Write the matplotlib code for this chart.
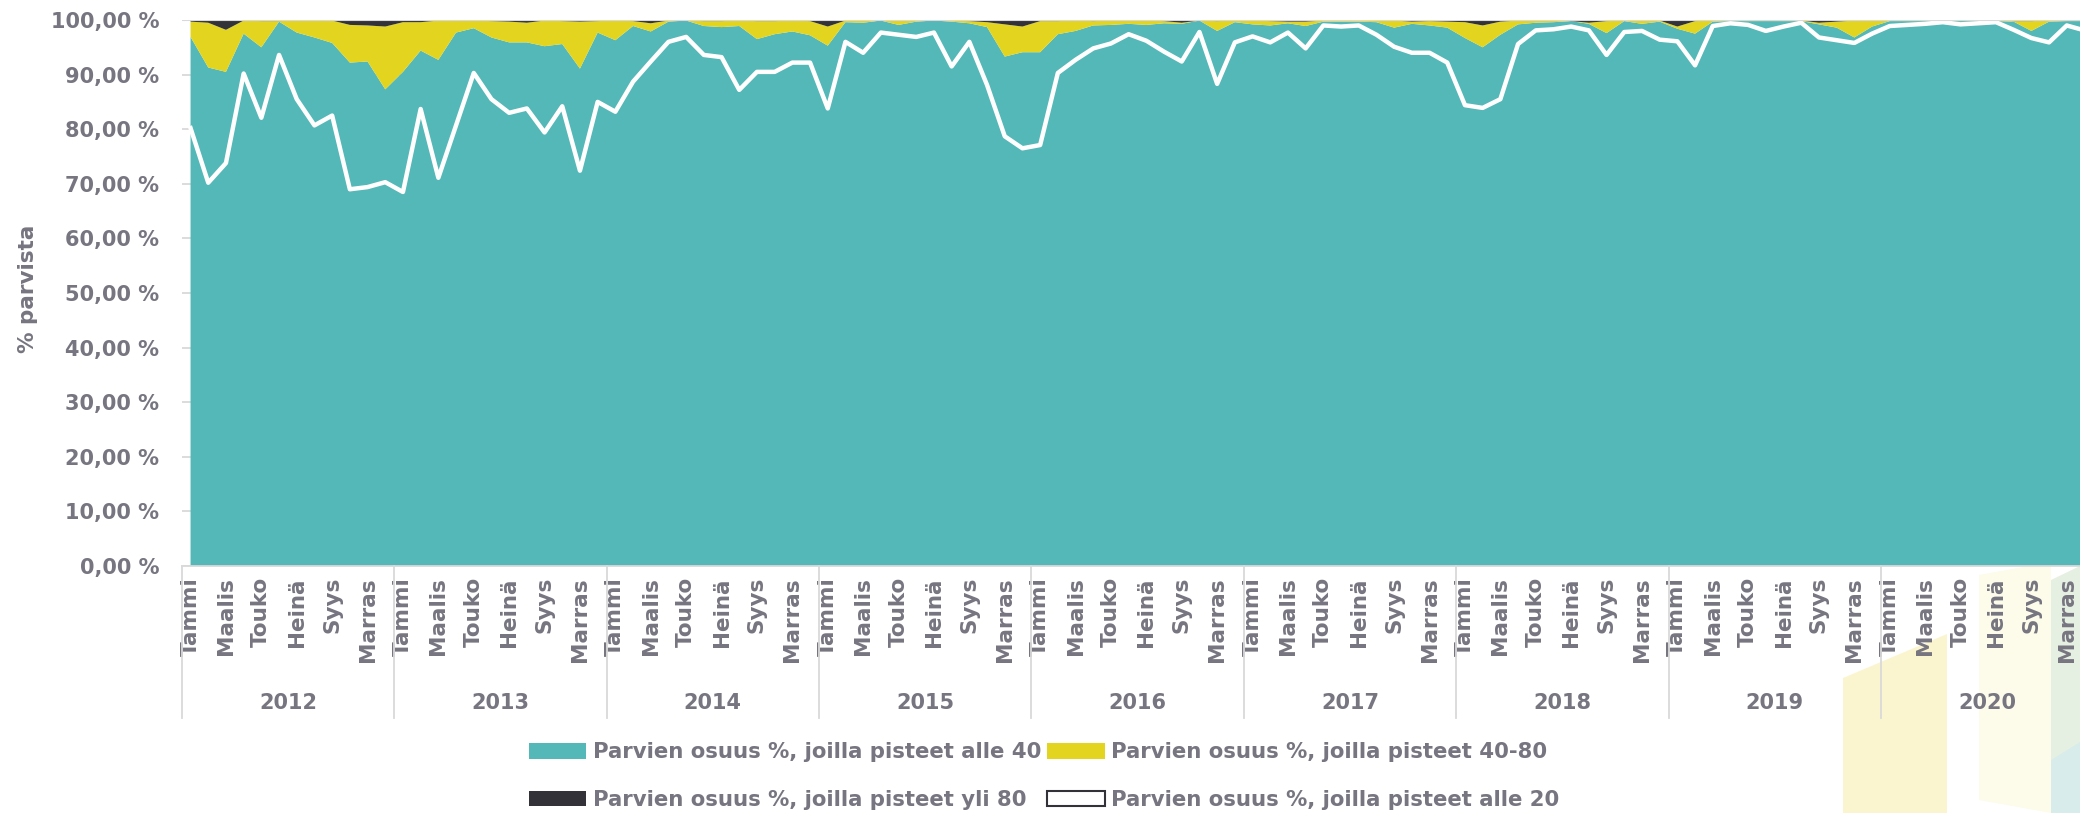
import matplotlib
matplotlib.use('Agg')
import matplotlib.pyplot as plt
import matplotlib.transforms as mtransforms
from matplotlib.patches import Patch, Polygon
import numpy as np

years = ['2012', '2013', '2014', '2015', '2016', '2017', '2018', '2019', '2020']
month_names = ['Tammi', 'Maalis', 'Touko', 'Heinä', 'Syys', 'Marras']

# monthly shares (%), Jan 2012 - Dec 2020
alle_40 = [96.9, 91.3, 90.5, 97.5, 95.0, 99.7, 97.7, 96.8, 95.8, 92.2, 92.4, 87.3,
           90.5, 94.4, 92.7, 97.7, 98.5, 96.8, 95.9, 95.9, 95.2, 95.6, 91.1, 97.7,
           96.3, 98.9, 97.9, 99.7, 99.9, 98.9, 98.7, 98.9, 96.5, 97.4, 97.9, 97.2,
           95.3, 99.6, 99.5, 99.9, 99.1, 99.7, 99.9, 99.7, 99.4, 98.7, 93.3, 94.1,
           94.1, 97.4, 98.0, 99.0, 99.1, 99.3, 99.1, 99.4, 99.3, 99.9, 98.0, 99.6,
           99.2, 99.0, 99.4, 98.9, 99.7, 99.7, 99.7, 99.6, 98.6, 99.3, 99.0, 98.6,
           96.7, 95.0, 97.3, 99.2, 99.5, 99.6, 99.8, 99.3, 97.6, 99.8, 99.3, 99.7,
           98.4, 97.5, 99.7, 99.8, 99.8, 99.8, 99.8, 99.8, 99.2, 98.6, 96.8, 98.8,
           99.8, 99.8, 99.8, 99.8, 99.8, 99.8, 99.8, 99.7, 98.0, 99.7, 99.8, 99.8]

pisteet_40_80 = [2.8, 8.2, 7.7, 2.4, 4.8, 0.1, 2.2, 3.1, 4.1, 6.9, 6.6, 11.5,
                 9.1, 5.2, 7.2, 2.2, 1.4, 3.0, 3.8, 3.6, 4.7, 4.2, 8.6, 2.1,
                 3.6, 0.9, 1.5, 0.2, 0.0, 0.9, 1.1, 1.0, 3.3, 2.4, 2.0, 2.6,
                 3.5, 0.3, 0.4, 0.0, 0.8, 0.2, 0.0, 0.2, 0.4, 0.9, 5.9, 4.7,
                 5.7, 2.4, 1.9, 0.8, 0.8, 0.6, 0.8, 0.4, 0.2, 0.0, 1.8, 0.3,
                 0.7, 0.8, 0.3, 0.8, 0.2, 0.2, 0.2, 0.3, 1.3, 0.4, 0.8, 1.1,
                 2.9, 4.0, 2.4, 0.7, 0.4, 0.3, 0.0, 0.2, 2.2, 0.1, 0.6, 0.2,
                 0.4, 2.3, 0.2, 0.1, 0.1, 0.1, 0.1, 0.1, 0.3, 1.1, 3.1, 1.1,
                 0.1, 0.1, 0.1, 0.1, 0.1, 0.1, 0.1, 0.1, 1.8, 0.2, 0.1, 0.1]

yli_80 = [0.3, 0.5, 1.8, 0.1, 0.2, 0.2, 0.1, 0.1, 0.1, 0.9, 1.0, 1.2,
          0.4, 0.4, 0.1, 0.1, 0.1, 0.2, 0.3, 0.5, 0.1, 0.2, 0.3, 0.2,
          0.1, 0.2, 0.6, 0.1, 0.1, 0.2, 0.2, 0.1, 0.2, 0.2, 0.1, 0.2,
          1.2, 0.1, 0.1, 0.1, 0.1, 0.1, 0.1, 0.1, 0.2, 0.4, 0.8, 1.2,
          0.2, 0.2, 0.1, 0.2, 0.1, 0.1, 0.1, 0.2, 0.5, 0.1, 0.2, 0.1,
          0.1, 0.2, 0.3, 0.3, 0.1, 0.1, 0.1, 0.1, 0.1, 0.3, 0.2, 0.3,
          0.4, 1.0, 0.3, 0.1, 0.1, 0.1, 0.2, 0.5, 0.2, 0.1, 0.1, 0.1,
          1.2, 0.2, 0.1, 0.1, 0.1, 0.1, 0.1, 0.1, 0.5, 0.3, 0.1, 0.1,
          0.1, 0.1, 0.1, 0.1, 0.1, 0.1, 0.1, 0.2, 0.2, 0.1, 0.1, 0.1]

alle_20 = [80.2, 70.2, 73.8, 90.2, 82.1, 93.6, 85.5, 80.7, 82.5, 69.0, 69.4, 70.3,
           68.5, 83.7, 71.1, 80.7, 90.3, 85.5, 83.0, 83.8, 79.4, 84.2, 72.4, 85.0,
           83.2, 88.7, 92.4, 96.0, 96.9, 93.6, 93.2, 87.2, 90.5, 90.5, 92.2, 92.2,
           83.8, 96.0, 94.0, 97.7, 97.3, 96.9, 97.7, 91.5, 96.0, 88.1, 78.7, 76.5,
           77.1, 90.3, 92.7, 94.8, 95.7, 97.4, 96.2, 94.2, 92.4, 97.8, 88.3, 95.9,
           97.0, 95.9, 97.7, 94.8, 99.0, 98.8, 99.0, 97.3, 95.1, 94.0, 94.0, 92.2,
           84.4, 83.9, 85.5, 95.6, 98.1, 98.3, 98.8, 98.1, 93.6, 97.8, 98.0, 96.4,
           96.1, 91.7, 98.9, 99.4, 99.1, 98.0, 98.8, 99.5, 96.8, 96.3, 95.8, 97.5,
           98.9, 99.1, 99.3, 99.6, 99.2, 99.4, 99.6, 98.2, 96.7, 95.9, 99.0, 98.1]

series_labels = ['Parvien osuus %, joilla pisteet alle 40',
                 'Parvien osuus %, joilla pisteet 40-80',
                 'Parvien osuus %, joilla pisteet yli 80',
                 'Parvien osuus %, joilla pisteet alle 20']

teal = '#53b8b7'
yellow = '#e2d41f'
dark = '#333238'
grey = '#767580'
light = '#d9d9d9'

W, H = 2080, 813
fig = plt.figure(figsize=(W / 100, H / 100), dpi=100)

# faint background decoration in the lower right corner
def fpoly(pts, color):
    p = Polygon([(x / W, 1 - y / H) for x, y in pts], closed=True,
                transform=fig.transFigure, facecolor=color, edgecolor='none', zorder=-5)
    fig.add_artist(p)

fpoly([(1843, 678), (1947, 634), (1947, 813), (1843, 813)], '#fbf5cf')
fpoly([(1979, 575), (2051, 562), (2051, 813), (1979, 800)], '#fdfbea')
fpoly([(2051, 580), (2080, 566), (2080, 813), (2051, 813)], '#e6f0e2')
fpoly([(2051, 760), (2080, 742), (2080, 813), (2051, 813)], '#d8eceb')

left = 181.7 / W
ax = fig.add_axes([left, 1 - 566 / H, 1 - left, 546 / H])
ax.patch.set_alpha(0)

x = np.arange(len(alle_40))
ax.stackplot(x, alle_40, pisteet_40_80, yli_80, colors=[teal, yellow, dark],
             linewidth=0, zorder=2)
ax.plot(x, alle_20, color='white', lw=3.2, zorder=3)

ax.set_xlim(-0.5, (W - 181.7) / 17.7 - 0.5)
ax.set_ylim(0, 100)

ax.set_yticks(range(0, 101, 10))
ax.set_yticklabels([('%.2f %%' % v).replace('.', ',') for v in range(0, 101, 10)])
ax.yaxis.grid(True, color=light, lw=1.3, zorder=0)
ax.set_axisbelow(True)
ax.axhline(100, color=light, lw=1.5, zorder=4)

for s in ['left', 'right', 'top']:
    ax.spines[s].set_visible(False)
ax.spines['bottom'].set_color(light)
ax.spines['bottom'].set_linewidth(1.3)

ax.tick_params(axis='y', length=0, pad=16, labelsize=15, labelcolor=grey)
ax.set_xticks(range(0, len(x), 2))
ax.set_xticklabels(month_names * len(years), rotation=90, va='top', ha='center')
ax.tick_params(axis='x', length=0, pad=8, labelsize=15.5, labelcolor=grey)
for lab in ax.get_xticklabels() + ax.get_yticklabels():
    lab.set_fontweight('bold')

trans = mtransforms.blended_transform_factory(ax.transData, ax.transAxes)
for k, yr in enumerate(years):
    ax.text(12 * k + 5.5, -0.251, yr, transform=trans, ha='center', va='center',
            fontsize=15, fontweight='bold', color=grey)
for k in range(len(years) + 1):
    ax.plot([12 * k - 0.5] * 2, [0, -0.278], transform=trans, color=light,
            lw=1.3, clip_on=False)

fig.text(28 / W, 1 - 289 / H, '% parvista', rotation=90, ha='center', va='center',
         fontsize=15.5, fontweight='bold', color=grey)

handles = [Patch(facecolor=teal, edgecolor='none'),
           Patch(facecolor=dark, edgecolor='none'),
           Patch(facecolor=yellow, edgecolor='none'),
           Patch(facecolor='white', edgecolor=dark, linewidth=1.5)]
labels = [series_labels[0], series_labels[2], series_labels[1], series_labels[3]]
fig.legend(handles, labels, ncol=2, loc='center', bbox_to_anchor=(0.502, 0.0455),
           frameon=False, prop={'size': 15.3, 'weight': 'bold'}, labelcolor=grey,
           handlelength=2.7, handleheight=0.75, handletextpad=0.3,
           columnspacing=0.3, labelspacing=1.3)

fig.savefig('out.png', dpi=100)
